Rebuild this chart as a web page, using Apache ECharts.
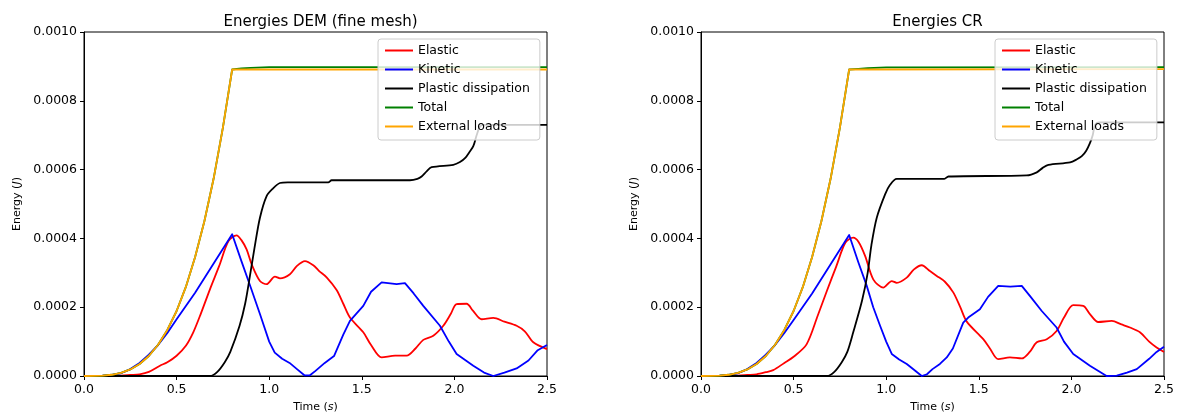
<!DOCTYPE html>
<html>
<head>
<meta charset="utf-8">
<script src="https://cdn.jsdelivr.net/npm/echarts@6/dist/echarts.min.js"></script>
<style>
  html, body { margin: 0; padding: 0; background: #fff; }
  #main { width: 1180px; height: 418px; }
</style>
</head>
<body>
<div id="main"></div>
<script>
// tick labels
const xTicks = [0, 0.5, 1.0, 1.5, 2.0, 2.5];
const yTicks = [0, 0.0002, 0.0004, 0.0006, 0.0008, 0.001];
const seriesNames = ['Elastic', 'Kinetic', 'Plastic dissipation', 'Total', 'External loads'];

// ---- DEM (fine mesh) ----  [time (s), energy (J)]
const demElastic = [[0,0],[0.15,0],[0.2,0.000001],[0.25,0.000003],[0.3,0.000005],[0.35,0.000012],[0.41,0.00003],[0.45,0.00004],[0.5,0.000059],[0.55,0.000088],[0.59,0.000127],[0.63,0.00018],[0.68,0.000252],[0.73,0.00032],[0.78,0.000392],[0.824,0.000409],[0.85,0.000395],[0.878,0.000368],[0.905,0.000325],[0.95,0.000276],[0.986,0.000267],[1.031,0.000289],[1.058,0.000284],[1.112,0.000296],[1.15,0.00032],[1.193,0.000334],[1.238,0.000322],[1.27,0.000305],[1.31,0.000287],[1.364,0.00025],[1.4,0.00021],[1.436,0.00017],[1.508,0.000127],[1.55,0.00009],[1.607,0.000054],[1.68,0.000059],[1.742,0.000059],[1.79,0.00008],[1.832,0.000105],[1.886,0.000117],[1.94,0.000146],[1.98,0.00018],[2.012,0.000209],[2.066,0.00021],[2.1,0.00019],[2.147,0.000165],[2.21,0.000169],[2.27,0.000158],[2.336,0.000146],[2.38,0.00013],[2.426,0.000098],[2.5,0.000078]];
const demKinetic = [[0,0],[0.1,0.000001],[0.15,0.000003],[0.2,0.000008],[0.25,0.00002],[0.3,0.000038],[0.35,0.000062],[0.4,0.00009],[0.45,0.000125],[0.5,0.000165],[0.6,0.000242],[0.7,0.000327],[0.8,0.000412],[0.85,0.000334],[0.9,0.000258],[0.95,0.00018],[1.0,0.0001],[1.03,0.000068],[1.07,0.00005],[1.11,0.000038],[1.15,0.00002],[1.19,0.000002],[1.22,0.000002],[1.25,0.000015],[1.3,0.000038],[1.35,0.000058],[1.4,0.00012],[1.436,0.00016],[1.508,0.000204],[1.55,0.000245],[1.607,0.000272],[1.688,0.000267],[1.733,0.00027],[1.78,0.00024],[1.832,0.000204],[1.922,0.000146],[1.97,0.0001],[2.012,0.000064],[2.102,0.00003],[2.16,0.00001],[2.21,0],[2.27,0.00001],[2.336,0.000022],[2.4,0.000045],[2.45,0.000075],[2.5,0.00009]];
const demPlastic = [[0,0],[0.68,0],[0.72,0.000012],[0.76,0.00004],[0.79,0.00007],[0.84,0.000146],[0.87,0.00021],[0.896,0.000291],[0.92,0.00037],[0.95,0.00046],[0.986,0.000523],[1.02,0.000545],[1.058,0.000561],[1.1,0.000563],[1.319,0.000563],[1.337,0.000569],[1.76,0.000569],[1.8,0.000573],[1.823,0.00058],[1.85,0.000595],[1.877,0.000607],[1.994,0.000614],[2.03,0.000622],[2.06,0.000635],[2.08,0.00065],[2.102,0.000668],[2.12,0.0007],[2.138,0.000725],[2.16,0.00073],[2.5,0.00073]];
const demTotal = [[0,0],[0.1,0.000001],[0.15,0.0000036],[0.2,0.0000092],[0.25,0.000019],[0.3,0.000035],[0.35,0.000058],[0.4,0.000091],[0.45,0.000134],[0.5,0.000189],[0.55,0.000259],[0.6,0.000346],[0.65,0.00045],[0.7,0.000574],[0.75,0.000722],[0.8,0.000891],[0.85,0.000894],[0.9,0.000896],[1.0,0.000898],[2.5,0.000898]];
const demExternal = [[0,0],[0.1,0.000001],[0.15,0.0000036],[0.2,0.0000092],[0.25,0.000019],[0.3,0.000035],[0.35,0.000058],[0.4,0.000091],[0.45,0.000134],[0.5,0.000189],[0.55,0.000259],[0.6,0.000346],[0.65,0.00045],[0.7,0.000574],[0.75,0.000722],[0.8,0.000891],[2.5,0.000891]];

// ---- CR ----
const crElastic = [[0,0],[0.15,0],[0.2,0.000001],[0.25,0.000003],[0.3,0.000005],[0.35,0.000011],[0.39,0.000017],[0.45,0.000038],[0.5,0.000056],[0.57,0.000092],[0.63,0.000175],[0.68,0.000248],[0.73,0.000318],[0.78,0.000388],[0.822,0.000402],[0.85,0.00039],[0.886,0.000349],[0.93,0.000281],[0.984,0.000257],[1.03,0.000276],[1.057,0.000271],[1.111,0.000286],[1.15,0.00031],[1.192,0.000322],[1.236,0.000305],[1.273,0.000291],[1.317,0.000274],[1.362,0.000243],[1.4,0.0002],[1.435,0.000158],[1.524,0.000107],[1.56,0.00008],[1.605,0.000049],[1.668,0.000054],[1.732,0.000051],[1.775,0.00007],[1.813,0.000098],[1.867,0.000107],[1.92,0.000131],[1.96,0.00017],[2.01,0.000206],[2.064,0.000204],[2.1,0.00018],[2.145,0.000157],[2.218,0.00016],[2.27,0.00015],[2.316,0.000141],[2.37,0.000127],[2.42,0.0001],[2.46,0.000083],[2.5,0.00007]];
const crKinetic = [[0,0],[0.1,0.000001],[0.15,0.000003],[0.2,0.000008],[0.25,0.00002],[0.3,0.000038],[0.35,0.000062],[0.4,0.00009],[0.45,0.000125],[0.5,0.000163],[0.6,0.00024],[0.7,0.000325],[0.8,0.00041],[0.85,0.00033],[0.895,0.000262],[0.93,0.0002],[0.967,0.000146],[1.0,0.0001],[1.03,0.000064],[1.07,0.000048],[1.111,0.000035],[1.15,0.000018],[1.192,0],[1.22,0.000005],[1.25,0.00002],[1.29,0.000035],[1.327,0.000054],[1.36,0.00008],[1.416,0.000155],[1.443,0.00017],[1.506,0.000194],[1.55,0.00023],[1.605,0.000262],[1.67,0.00026],[1.732,0.000262],[1.78,0.00023],[1.84,0.000189],[1.92,0.000141],[1.96,0.0001],[2.01,0.000064],[2.1,0.00003],[2.19,0],[2.245,0.000001],[2.3,0.00001],[2.353,0.00002],[2.42,0.00005],[2.46,0.00007],[2.5,0.000085]];
const crPlastic = [[0,0],[0.68,0],[0.72,0.000012],[0.76,0.00004],[0.79,0.00007],[0.822,0.000127],[0.87,0.00022],[0.9,0.0003],[0.92,0.00038],[0.949,0.00046],[0.994,0.000528],[1.02,0.000555],[1.057,0.000573],[1.314,0.000573],[1.336,0.00058],[1.759,0.000583],[1.813,0.000592],[1.845,0.000605],[1.876,0.000614],[1.993,0.000621],[2.03,0.00063],[2.056,0.000639],[2.08,0.000655],[2.1,0.000677],[2.115,0.0007],[2.128,0.00073],[2.15,0.000737],[2.5,0.000737]];
const crTotal = [[0,0],[0.1,0.000001],[0.15,0.0000036],[0.2,0.0000092],[0.25,0.000019],[0.3,0.000035],[0.35,0.000058],[0.4,0.000091],[0.45,0.000134],[0.5,0.000189],[0.55,0.000259],[0.6,0.000346],[0.65,0.00045],[0.7,0.000574],[0.75,0.000722],[0.8,0.000891],[0.85,0.000893],[0.9,0.000895],[1.0,0.000897],[2.5,0.000898]];
const crExternal = [[0,0],[0.1,0.000001],[0.15,0.0000036],[0.2,0.0000092],[0.25,0.000019],[0.3,0.000035],[0.35,0.000058],[0.4,0.000091],[0.45,0.000134],[0.5,0.000189],[0.55,0.000259],[0.6,0.000346],[0.65,0.00045],[0.7,0.000574],[0.75,0.000722],[0.8,0.000891],[2.5,0.000892]];

const colors = ['#ff0000', '#0000ff', '#000000', '#008000', '#ffa500'];
// rounding of each curve (kinetic and the load curves have a sharp corner at 0.8 s)
const smoothing = [0.3, false, 0.3, false, false];
const FONT = 'DejaVu Sans';

const chart = echarts.init(document.getElementById('main'), null, { renderer: 'canvas' });

function xAxisFor(gridIndex) {
    return {
        type: 'value', gridIndex: gridIndex,
        min: xTicks[0], max: xTicks[xTicks.length - 1], interval: 0.5,
        name: 'Time ({i|s})', nameLocation: 'middle', nameGap: 26,
        nameTextStyle: { fontFamily: FONT, fontSize: 11, color: '#000',
            rich: { i: { fontFamily: FONT, fontSize: 11, fontStyle: 'italic', color: '#000' } } },
        axisLine: { show: true, lineStyle: { color: '#000', width: 1 } },
        axisTick: { show: true, inside: false, length: 4, lineStyle: { color: '#000' } },
        axisLabel: { fontFamily: FONT, fontSize: 12.5, color: '#000', margin: 7,
            formatter: v => v.toFixed(1) },
        splitLine: { show: false }
    };
}

function yAxisFor(gridIndex) {
    return {
        type: 'value', gridIndex: gridIndex,
        min: yTicks[0], max: yTicks[yTicks.length - 1], interval: 0.0002,
        name: 'Energy ({i|J})', nameLocation: 'middle', nameGap: 61,
        nameTextStyle: { fontFamily: FONT, fontSize: 11, color: '#000',
            rich: { i: { fontFamily: FONT, fontSize: 11, fontStyle: 'italic', color: '#000' } } },
        axisLine: { show: true, lineStyle: { color: '#000', width: 1 } },
        axisTick: { show: true, inside: false, length: 4, lineStyle: { color: '#000' } },
        axisLabel: { fontFamily: FONT, fontSize: 12.5, color: '#000', margin: 7,
            formatter: v => v.toFixed(4) },
        splitLine: { show: false }
    };
}

function lineSeries(name, data, idx, gridIndex) {
    return {
        name: name, type: 'line', data: data,
        xAxisIndex: gridIndex, yAxisIndex: gridIndex,
        showSymbol: false, symbol: 'none', smooth: smoothing[idx],
        lineStyle: { color: colors[idx], width: 1.8, join: 'round' },
        itemStyle: { color: colors[idx] },
        emphasis: { disabled: true }, animation: false
    };
}

function legendFor(left) {
    return {
        orient: 'vertical', left: left, top: 39,
        data: seriesNames,
        icon: 'rect', itemWidth: 28, itemHeight: 2, itemGap: 4,
        padding: [4, 10, 6, 7],
        backgroundColor: 'rgba(255,255,255,0.8)',
        borderColor: '#cccccc', borderWidth: 1, borderRadius: 3,
        textStyle: { fontFamily: FONT, fontSize: 12.5, color: '#000', lineHeight: 15 },
        selectedMode: false
    };
}

const demSets = [demElastic, demKinetic, demPlastic, demTotal, demExternal];
const crSets = [crElastic, crKinetic, crPlastic, crTotal, crExternal];

const series = [];
demSets.forEach((d, i) => series.push(lineSeries(seriesNames[i], d, i, 0)));
crSets.forEach((d, i) => series.push(lineSeries(seriesNames[i], d, i, 1)));

const option = {
    backgroundColor: '#fff',
    animation: false,
    title: [
        { text: 'Energies DEM (fine mesh)', left: 315.5, top: 10, textAlign: 'center',
          textStyle: { fontFamily: FONT, fontSize: 15, fontWeight: 'normal', color: '#000' } },
        { text: 'Energies CR', left: 932.5, top: 10, textAlign: 'center',
          textStyle: { fontFamily: FONT, fontSize: 15, fontWeight: 'normal', color: '#000' } }
    ],
    legend: [legendFor(378), legendFor(995)],
    grid: [
        { left: 84, right: 633, top: 32, bottom: 41, show: true, borderColor: '#000', borderWidth: 1, backgroundColor: 'transparent' },
        { left: 701, right: 16, top: 32, bottom: 41, show: true, borderColor: '#000', borderWidth: 1, backgroundColor: 'transparent' }
    ],
    xAxis: [xAxisFor(0), xAxisFor(1)],
    yAxis: [yAxisFor(0), yAxisFor(1)],
    series: series
};

chart.setOption(option);
</script>
</body>
</html>
